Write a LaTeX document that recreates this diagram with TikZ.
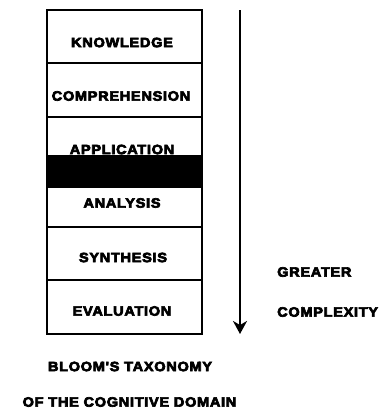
\documentclass[tikz,border=0pt]{standalone}
\usepackage{fontspec}
\usetikzlibrary{arrows.meta}
\newfontfamily\lblfont[FakeStretch=1.08,LetterSpace=5,FakeBold=5]{Liberation Sans Bold}
\tikzset{
  cell/.style={draw, line width=1.6pt, minimum width=155pt, inner sep=0pt, outer sep=0pt},
  lbl/.style={font=\lblfont\fontsize{13.5}{15}\selectfont, inner sep=0pt},
  band/.style={fill=black, draw=black, line width=0pt, inner sep=0pt, minimum width=155pt, minimum height=32pt},
  trend/.style={line width=2pt, -{Stealth[length=13pt,width=14pt,inset=4pt]}}
}
\begin{document}
\begin{tikzpicture}[x=1pt, y=-1pt]
  \useasboundingbox (0,0) rectangle (388,410);
  % the six levels, stacked
  \node[cell, minimum height=53pt] (c1) at (124.5,36.5) {};
  \node[cell, minimum height=54pt] (c2) at (124.5,90) {};
  \node[cell, minimum height=54pt] (c3) at (124.5,144) {};
  \node[cell, minimum height=56pt] (c4) at (124.5,199) {};
  \node[cell, minimum height=53pt] (c5) at (124.5,253.5) {};
  \node[cell, minimum height=54pt] (c6) at (124.5,307) {};
  % level names
  \node[lbl] (t1) at (122,42.5) {KNOWLEDGE};
  \node[lbl] (t2) at (121,96) {COMPREHENSION};
  \node[lbl] (t3) at (122,149.5) {APPLICATION};
  \node[lbl] (t4) at (122,203) {ANALYSIS};
  \node[lbl] (t5) at (123,257.5) {SYNTHESIS};
  \node[lbl] (t6) at (122,311) {EVALUATION};
  % solid bar across the application/analysis boundary
  \node[band] (bar) at (124.5,171) {};
  % complexity arrow
  \coordinate (top) at (240,10);
  \coordinate (bot) at (240,334);
  \draw[trend] (top) -- (bot);
  \node[lbl, anchor=west] (g1) at (277,272) {GREATER};
  \node[lbl, anchor=west] (g2) at (277,312) {COMPLEXITY};
  % caption
  \node[lbl] (cap1) at (130,366.5) {BLOOM\char"0027 S TAXONOMY};
  \node[lbl] (cap2) at (129.5,402) {OF THE COGNITIVE DOMAIN};
\end{tikzpicture}
\end{document}
